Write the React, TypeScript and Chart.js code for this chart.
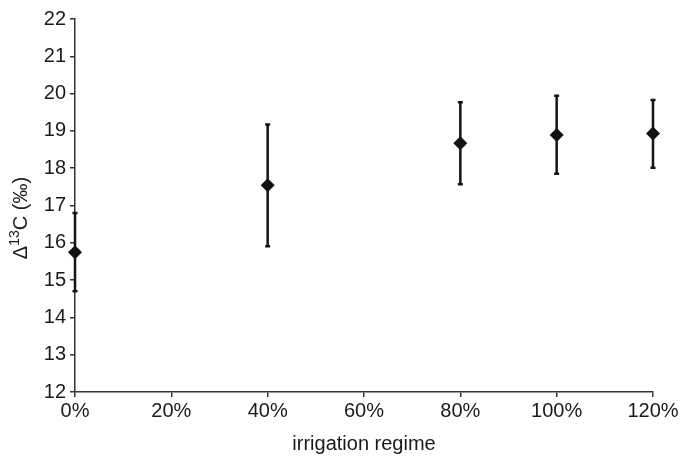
import React, { useEffect, useRef } from "react";
import { Chart, registerables } from "chart.js";

Chart.register(...registerables);

const xValues = [0, 40, 80, 100, 120];
const meanValues = [15.75, 17.54, 18.67, 18.89, 18.93];
const upperValues = [16.8, 19.17, 19.77, 19.94, 19.83];
const lowerValues = [14.7, 15.91, 17.57, 17.85, 18.01];
const xTitle = "irrigation regime";

const FONT = "'Liberation Sans', Arial, sans-serif";

const errorBarPlugin = {
  id: "errorBars",
  afterDatasetsDraw(chart: any) {
    const { ctx, scales } = chart;
    const xs = scales.x;
    const ys = scales.y;
    ctx.save();
    ctx.strokeStyle = "#141414";
    ctx.lineWidth = 2.5;
    xValues.forEach((xv, i) => {
      const px = xs.getPixelForValue(xv);
      const top = ys.getPixelForValue(upperValues[i]);
      const bot = ys.getPixelForValue(lowerValues[i]);
      ctx.beginPath();
      ctx.moveTo(px, top);
      ctx.lineTo(px, bot);
      ctx.moveTo(px - 2.5, top);
      ctx.lineTo(px + 2.5, top);
      ctx.moveTo(px - 2.5, bot);
      ctx.lineTo(px + 2.5, bot);
      ctx.stroke();
    });
    ctx.restore();
  },
};

const yTitlePlugin = {
  id: "yTitle",
  afterDraw(chart: any) {
    const { ctx } = chart;
    ctx.save();
    ctx.translate(20, 218);
    ctx.rotate(-Math.PI / 2);
    ctx.fillStyle = "#1a1a1a";
    ctx.textBaseline = "alphabetic";
    const big = `20px ${FONT}`;
    const small = `14px ${FONT}`;
    const parts = [
      { t: "Δ", f: big, dy: 0 },
      { t: "13", f: small, dy: -8 },
      { t: "C (‰)", f: big, dy: 0 },
    ];
    let total = 0;
    parts.forEach((p) => {
      ctx.font = p.f;
      total += ctx.measureText(p.t).width;
    });
    let x = -total / 2;
    parts.forEach((p) => {
      ctx.font = p.f;
      ctx.fillText(p.t, x, 7 + p.dy);
      x += ctx.measureText(p.t).width;
    });
    ctx.restore();
  },
};

export default function App() {
  const ref = useRef<HTMLCanvasElement>(null);
  useEffect(() => {
    document.body.style.margin = "0";
    const chart = new Chart(ref.current!, {
      type: "scatter",
      data: {
        datasets: [
          {
            data: xValues.map((x, i) => ({ x, y: meanValues[i] })),
            pointStyle: "rectRot",
            pointRadius: 7,
            backgroundColor: "#111",
            borderColor: "#111",
            borderWidth: 0,
            showLine: false,
            clip: false,
          } as any,
        ],
      },
      options: {
        responsive: false,
        animation: false,
        layout: { padding: { top: 19, right: 33, left: 0, bottom: 0 } },
        plugins: { legend: { display: false }, tooltip: { enabled: false } },
        scales: {
          x: {
            type: "linear",
            min: 0,
            max: 120,
            afterFit(s: any) {
              s.height = 68;
            },
            ticks: {
              stepSize: 20,
              callback: (v: any) => `${v}%`,
              color: "#1a1a1a",
              font: { family: FONT, size: 20 },
              padding: 2,
              maxRotation: 0,
            },
            grid: {
              drawOnChartArea: false,
              drawTicks: true,
              tickLength: 5,
              color: "#333",
              lineWidth: 1.5,
            },
            border: { color: "#333", width: 1.5 },
            title: {
              display: true,
              text: xTitle,
              color: "#1a1a1a",
              font: { family: FONT, size: 20 },
              padding: { top: 4 },
            },
          },
          y: {
            min: 12,
            max: 22,
            afterFit(s: any) {
              s.width = 75;
            },
            ticks: {
              stepSize: 1,
              color: "#1a1a1a",
              font: { family: FONT, size: 20 },
              padding: 4,
            },
            grid: {
              drawOnChartArea: false,
              drawTicks: true,
              tickLength: 5,
              color: "#333",
              lineWidth: 1.5,
            },
            border: { color: "#333", width: 1.5 },
          },
        },
      },
      plugins: [errorBarPlugin, yTitlePlugin],
    });
    return () => chart.destroy();
  }, []);
  return <canvas ref={ref} width={686} height={460} style={{ display: "block" }} />;
}
